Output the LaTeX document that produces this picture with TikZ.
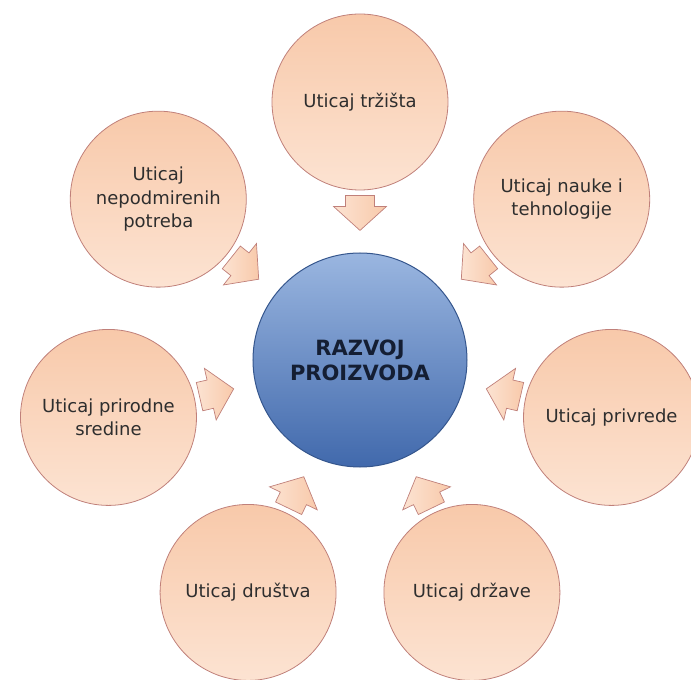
\documentclass[tikz,border=0pt]{standalone}
\usepackage{fontspec}
\setmainfont{DejaVu Sans}
\usetikzlibrary{calc}

\definecolor{peachtop}{HTML}{F8C9AA}
\definecolor{peachbot}{HTML}{FCE3D2}
\definecolor{peachedge}{HTML}{C0807A}
\definecolor{bluetop}{HTML}{9AB6E0}
\definecolor{bluebot}{HTML}{4169AC}
\definecolor{blueedge}{HTML}{35568D}
\definecolor{labeltext}{HTML}{2E2E2E}
\definecolor{coretext}{HTML}{141E33}

\tikzset{
  influence/.style={circle, draw=peachedge, line width=0.8pt, top color=peachtop, bottom color=peachbot,
    minimum size=176pt, inner sep=0pt, align=center, text=labeltext, font=\fontsize{18}{23.5}\selectfont},
  core/.style={circle, draw=blueedge, line width=1pt, top color=bluetop, bottom color=bluebot,
    minimum size=214pt, inner sep=0pt, align=center, text=coretext, font=\bfseries\fontsize{21}{25}\selectfont},
  inarrow/.pic={
    \draw[draw=peachedge, line width=0.7pt, left color=peachbot, right color=peachtop]
      (17.5,14.5) -- (6.5,14.5) -- (6.5,26.5) -- (-17.5,0) -- (6.5,-26.5) -- (6.5,-14.5) -- (17.5,-14.5) -- cycle;}
}

\begin{document}
\begin{tikzpicture}[x=1pt, y=1pt]
\useasboundingbox (-360,-320) rectangle (331,360);

% Central circle
\node[core] (razvoj) at (0,0) {RAZVOJ\\PROIZVODA};

% Influences around it
\node[influence] (trziste) at (90:258) {Uticaj tržišta};
\node[influence] (nauka) at (38.57:258) {Uticaj nauke i\\tehnologije};
\node[influence] (privreda) at (-12.86:258) {Uticaj privrede};
\node[influence] (drzava) at (-64.29:258) {Uticaj države};
\node[influence] (drustvo) at (-115.71:258) {Uticaj društva};
\node[influence] (sredina) at (-167.14:258) {Uticaj prirodne\\sredine};
\node[influence] (potrebe) at (141.43:258) {Uticaj\\nepodmirenih\\potreba};

% Block arrows towards the centre
\pic[rotate=90] at ($(razvoj)!0.57!(trziste)$) {inarrow};
\pic[rotate=38.57] at ($(razvoj)!0.57!(nauka)$) {inarrow};
\pic[rotate=-12.86] at ($(razvoj)!0.57!(privreda)$) {inarrow};
\pic[rotate=-64.29] at ($(razvoj)!0.57!(drzava)$) {inarrow};
\pic[rotate=-115.71] at ($(razvoj)!0.57!(drustvo)$) {inarrow};
\pic[rotate=-167.14] at ($(razvoj)!0.57!(sredina)$) {inarrow};
\pic[rotate=141.43] at ($(razvoj)!0.57!(potrebe)$) {inarrow};
\end{tikzpicture}
\end{document}
